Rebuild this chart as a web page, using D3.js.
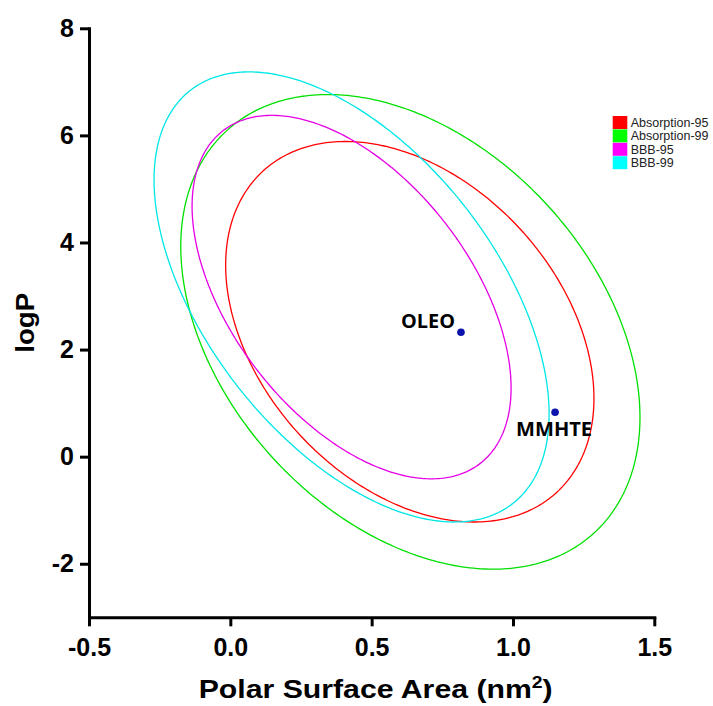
<!DOCTYPE html>
<html>
<head>
<meta charset="utf-8">
<script src="https://cdn.jsdelivr.net/npm/d3@7"></script>
<style>
  html, body { margin: 0; padding: 0; background: #fff; }
  svg { display: block; }
</style>
</head>
<body>
<svg id="chart" width="713" height="706"></svg>
<script>
// ---- data ----
const ellipseNames = ["Absorption-95", "Absorption-99", "BBB-95", "BBB-99"];
const ellipseColors = ["#ff0000", "#00e000", "#e600e6", "#00e6e6"];
const legendColors = ["#ff0000", "#00ff00", "#ff00ff", "#00ffff"];
const centerX = [0.635, 0.637, 0.429, 0.429];
const centerY = [2.333, 2.331, 2.98, 2.983];
const halfWidth = [0.6515, 0.8123, 0.5643, 0.6988];
const halfHeight = [3.553, 4.432, 3.394, 4.203];
const correlation = [-0.35, -0.36, -0.50, -0.52];

const pointNames = ["OLEO", "MMHTE"];
const pointX = [0.816, 1.149];
const pointY = [2.324, 0.83];

const xTickValues = [-0.5, 0.0, 0.5, 1.0, 1.5];
const xTickLabels = ["-0.5", "0.0", "0.5", "1.0", "1.5"];
const yTickValues = [8, 6, 4, 2, 0, -2];
const yTickLabels = ["8", "6", "4", "2", "0", "-2"];

// ---- layout ----
const svg = d3.select("#chart");
const x = d3.scaleLinear().domain([-0.5, 1.5]).range([89, 654.3]);
const y = d3.scaleLinear().domain([-3, 8]).range([617.3, 28.3]);

// ---- ellipses ----
const tSteps = d3.range(0, 360, 1).map(d => d * Math.PI / 180);
const line = d3.line().x(d => x(d[0])).y(d => y(d[1])).curve(d3.curveLinearClosed);
ellipseNames.forEach((name, i) => {
  const phi = Math.acos(correlation[i]);
  const pts = tSteps.map(t => [
    centerX[i] + halfWidth[i] * Math.cos(t),
    centerY[i] + halfHeight[i] * Math.cos(t + phi)
  ]);
  svg.append("path")
    .attr("d", line(pts))
    .attr("fill", "none")
    .attr("stroke", ellipseColors[i])
    .attr("stroke-width", 1.3);
});

// ---- axes ----
const xAxis = d3.axisBottom(x).tickValues(xTickValues)
  .tickFormat((d, i) => xTickLabels[i]).tickSize(9).tickSizeOuter(0).tickPadding(12);
const yAxis = d3.axisLeft(y).tickValues(yTickValues)
  .tickFormat((d, i) => yTickLabels[i]).tickSize(9).tickSizeOuter(0).tickPadding(6);

const gx = svg.append("g").attr("transform", `translate(0,${y(-3)})`).call(xAxis);
const gy = svg.append("g").attr("transform", `translate(${x(-0.5)},0)`).call(yAxis);
[gx, gy].forEach(g => {
  g.select(".domain").attr("stroke", "#000").attr("stroke-width", 3).attr("stroke-linecap", "square");
  g.selectAll(".tick line").attr("stroke", "#000").attr("stroke-width", 3);
  g.selectAll(".tick text")
    .attr("fill", "#000")
    .style("font-family", "'Liberation Sans', Arial, sans-serif")
    .style("font-weight", "bold")
    .style("font-size", "25px");
});

// ---- axis titles ----
const xt = svg.append("text")
  .attr("x", (x(-0.5) + x(1.5)) / 2 + 4)
  .attr("y", 698)
  .attr("text-anchor", "middle")
  .attr("textLength", 354)
  .attr("lengthAdjust", "spacingAndGlyphs")
  .style("font-family", "'Liberation Sans', Arial, sans-serif")
  .style("font-weight", "bold")
  .style("font-size", "25px");
xt.append("tspan").text("Polar Surface Area (nm");
xt.append("tspan").attr("dy", -10).style("font-size", "16px").text("2");
xt.append("tspan").attr("dy", 10).text(")");

svg.append("text")
  .attr("transform", `translate(34,${(y(8) + y(-3)) / 2}) rotate(-90)`)
  .attr("text-anchor", "middle")
  .attr("textLength", 60)
  .attr("lengthAdjust", "spacingAndGlyphs")
  .style("font-family", "'Liberation Sans', Arial, sans-serif")
  .style("font-weight", "bold")
  .style("font-size", "26px")
  .text("logP");

// ---- points ----
svg.selectAll("circle.pt").data(pointNames).enter().append("circle")
  .attr("class", "pt")
  .attr("cx", (d, i) => x(pointX[i]))
  .attr("cy", (d, i) => y(pointY[i]))
  .attr("r", 3.8)
  .attr("fill", "#0b14aa");

const labelFont = "'Open Sans', 'DejaVu Sans', sans-serif";
svg.append("text")
  .attr("x", x(pointX[0]) - 6)
  .attr("y", y(pointY[0]) - 4)
  .attr("text-anchor", "end")
  .attr("textLength", 54)
  .attr("lengthAdjust", "spacingAndGlyphs")
  .style("font-family", labelFont).style("font-weight", "bold").style("font-size", "19px")
  .text(pointNames[0]);
svg.append("text")
  .attr("x", x(pointX[1]) - 1)
  .attr("y", y(pointY[1]) + 24)
  .attr("text-anchor", "middle")
  .attr("textLength", 76)
  .attr("lengthAdjust", "spacingAndGlyphs")
  .style("font-family", labelFont).style("font-weight", "bold").style("font-size", "19px")
  .text(pointNames[1]);

// ---- legend ----
const lg = svg.append("g").attr("transform", "translate(612.7,116)");
ellipseNames.forEach((name, i) => {
  lg.append("rect")
    .attr("x", 0).attr("y", i * 13.4)
    .attr("width", 14.6).attr("height", 13)
    .attr("fill", legendColors[i]);
  lg.append("text")
    .attr("x", 18).attr("y", i * 13.4 + 11)
    .style("font-family", "'Liberation Sans', Arial, sans-serif")
    .style("font-size", "12.5px")
    .attr("fill", "#222")
    .text(name);
});
</script>
</body>
</html>
